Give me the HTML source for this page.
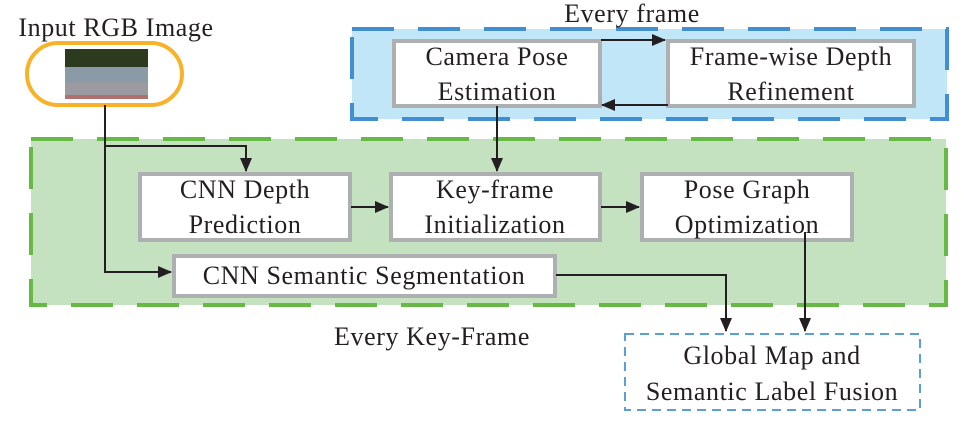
<!DOCTYPE html>
<html><head><style>body{margin:0;background:#fff}svg{display:block}text{font-family:"Liberation Serif",serif;font-size:26px;letter-spacing:0.6px;fill:#231f20}</style></head><body>
<svg width="964" height="430" viewBox="0 0 964 430">
<defs><marker id="a" markerWidth="14" markerHeight="14" refX="13" refY="7" orient="auto" markerUnits="userSpaceOnUse"><path d="M0,1 L14,7 L0,13 z" fill="#231f20"/></marker></defs>
<rect x="352" y="29" width="595" height="90" fill="#c0e6f7" stroke="#418fd0" stroke-width="4" stroke-dasharray="42,24"/>
<rect x="31" y="139" width="915" height="166" fill="#c4e2bf" stroke="#66b944" stroke-width="4" stroke-dasharray="42,24"/>
<text x="632" y="22" text-anchor="middle">Every frame</text>
<text x="432" y="345" text-anchor="middle">Every Key-Frame</text>
<text x="116" y="36" text-anchor="middle">Input RGB Image</text>
<rect x="27" y="43" width="155" height="62" rx="31" fill="#fff" stroke="#f7b22a" stroke-width="4"/>
<rect x="65" y="49" width="83" height="50" fill="#8a9aa6"/><rect x="65" y="49" width="83" height="18" fill="#2c3a1e"/><rect x="65" y="82" width="83" height="14" fill="#9a9aa0"/><rect x="65" y="95" width="83" height="4" fill="#b07070"/>
<g fill="#fff" stroke="#aeafb1" stroke-width="4">
<rect x="394" y="41" width="206" height="65"/><rect x="668" y="41" width="246" height="65"/>
<rect x="140" y="174" width="210" height="66"/><rect x="391" y="174" width="209" height="66"/><rect x="642" y="174" width="210" height="66"/>
<rect x="174" y="256" width="381" height="40"/>
</g>
<rect x="625" y="334" width="295" height="76" fill="#fff" stroke="#5a9fd8" stroke-width="2" stroke-dasharray="9,6"/>
<text x="497" y="65" text-anchor="middle">Camera Pose</text><text x="497" y="100" text-anchor="middle">Estimation</text>
<text x="791" y="65" text-anchor="middle">Frame-wise Depth</text><text x="791" y="100" text-anchor="middle">Refinement</text>
<text x="245" y="198" text-anchor="middle">CNN Depth</text><text x="245" y="233" text-anchor="middle">Prediction</text>
<text x="495" y="198" text-anchor="middle">Key-frame</text><text x="495" y="233" text-anchor="middle">Initialization</text>
<text x="747" y="198" text-anchor="middle">Pose Graph</text><text x="747" y="233" text-anchor="middle">Optimization</text>
<text x="364" y="284" text-anchor="middle">CNN Semantic Segmentation</text>
<text x="772" y="364" text-anchor="middle">Global Map and</text><text x="772" y="400" text-anchor="middle">Semantic Label Fusion</text>
<g stroke="#231f20" stroke-width="2" fill="none" marker-end="url(#a)">
<path d="M601,40 H665"/><path d="M668,105 H602"/>
<path d="M497,106 V171"/>
<path d="M105,105 V146 H246 V171"/>
<path d="M105,146 V272 H171"/>
<path d="M351,207 H388"/><path d="M601,207 H639"/>
<path d="M556,275 H726 V331"/>
<path d="M805,232 V331"/>
</g>
</svg></body></html>
